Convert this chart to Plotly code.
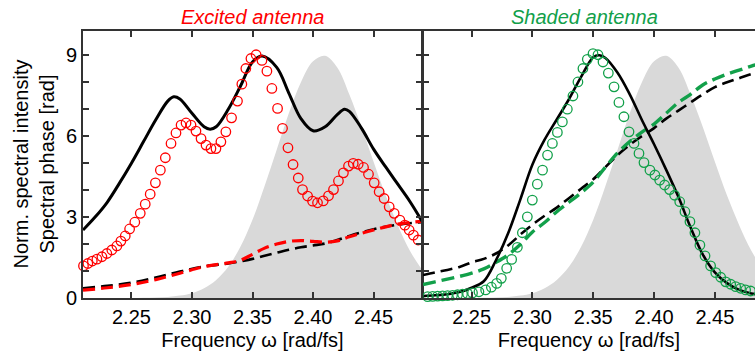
import plotly.graph_objects as go

# ---------------- data ----------------
# laser spectrum (gray area), same in both panels
spec_x = [2.21, 2.22, 2.23, 2.24, 2.25, 2.26, 2.27, 2.28, 2.29, 2.30, 2.31, 2.32, 2.33, 2.34, 2.35,
          2.36, 2.37, 2.38, 2.39, 2.40, 2.41, 2.42, 2.43, 2.44, 2.45, 2.46, 2.47, 2.48, 2.49]
spec_y = [0.0, 0.0, 0.0, 0.0, 0.0, 0.01, 0.02, 0.04, 0.09, 0.18, 0.36, 0.67, 1.16, 1.9, 2.9,
          4.15, 5.5, 6.85, 8.0, 8.78, 8.98, 8.55, 7.55, 6.35, 5.05, 3.8, 2.7, 1.75, 1.05]

# excited antenna: simulated intensity (solid black)
exc_sim_x = [2.21, 2.22, 2.23, 2.24, 2.25, 2.26, 2.27, 2.28, 2.285, 2.29, 2.30, 2.31, 2.315, 2.32, 2.33,
             2.34, 2.35, 2.358, 2.37, 2.38, 2.39, 2.40, 2.41, 2.42, 2.426, 2.43, 2.44, 2.45, 2.46,
             2.47, 2.48, 2.49]
exc_sim_y = [2.52, 3.0, 3.55, 4.25, 5.0, 5.8, 6.6, 7.3, 7.46, 7.38, 6.85, 6.35, 6.26, 6.35, 7.0,
             7.85, 8.75, 8.97, 8.55, 7.6, 6.65, 6.2, 6.35, 6.8, 7.0, 6.92, 6.3, 5.52, 4.86,
             4.22, 3.58, 2.85]

# excited antenna: measured intensity (red circles)
exc_meas_x = [2.2104, 2.2140, 2.2177, 2.2215, 2.2256, 2.2297, 2.2338, 2.2380, 2.2413, 2.2449,
              2.2485, 2.2528, 2.2573, 2.2614, 2.2655, 2.2698, 2.2739, 2.2780, 2.2827, 2.2868,
              2.2910, 2.2951, 2.2992, 2.3033, 2.3075, 2.3116, 2.3157, 2.3198, 2.3239, 2.3280,
              2.3327, 2.3376, 2.3412, 2.3445, 2.3487, 2.3530, 2.3578, 2.3619, 2.3660, 2.3707,
              2.3748, 2.3793, 2.3835, 2.3878, 2.3913, 2.3955, 2.3996, 2.4037, 2.4084, 2.4128,
              2.4169, 2.4210, 2.4251, 2.4293, 2.4332, 2.4373, 2.4417, 2.4458, 2.4505, 2.4546,
              2.4587, 2.4629, 2.4670, 2.4717, 2.4758, 2.4794, 2.4829, 2.4868]
exc_meas_y = [1.19, 1.28, 1.37, 1.44, 1.53, 1.65, 1.78, 1.93, 2.11, 2.30,
              2.56, 2.81, 3.14, 3.48, 3.85, 4.27, 4.74, 5.20, 5.73, 6.12,
              6.41, 6.49, 6.41, 6.19, 5.91, 5.67, 5.54, 5.54, 5.79, 6.16,
              6.68, 7.30, 7.93, 8.51, 8.88, 9.02, 8.81, 8.41, 7.77, 7.03,
              6.29, 5.57, 4.95, 4.45, 4.02, 3.78, 3.59, 3.53, 3.60, 3.79,
              4.02, 4.34, 4.64, 4.89, 4.99, 4.96, 4.84, 4.59, 4.27, 3.94,
              3.69, 3.38, 3.14, 2.89, 2.70, 2.52, 2.33, 2.15]

# excited antenna: spectral phase, simulated (black dashed) and measured (red dashed)
exc_phase_x = [2.21, 2.23, 2.25, 2.27, 2.29, 2.31, 2.33, 2.34, 2.35, 2.36, 2.37, 2.38, 2.39,
               2.40, 2.41, 2.42, 2.43, 2.45, 2.47, 2.49]
exc_phase_sim = [0.36, 0.45, 0.57, 0.76, 0.98, 1.17, 1.28, 1.36, 1.45, 1.57, 1.68, 1.79, 1.88,
                 1.95, 2.02, 2.15, 2.3, 2.55, 2.72, 2.81]
exc_phase_meas = [0.29, 0.38, 0.50, 0.68, 0.92, 1.16, 1.30, 1.40, 1.62, 1.85, 2.0, 2.1, 2.13,
                  2.1, 2.07, 2.12, 2.27, 2.52, 2.74, 2.84]

# shaded antenna: simulated intensity (solid black)
sh_sim_x = [2.21, 2.22, 2.23, 2.24, 2.25, 2.26, 2.27, 2.28, 2.29, 2.30, 2.31, 2.32, 2.33, 2.34,
            2.35, 2.355, 2.36, 2.37, 2.38, 2.39, 2.40, 2.41, 2.42, 2.43, 2.44, 2.45, 2.46,
            2.47, 2.48, 2.49]
sh_sim_y = [0.07, 0.1, 0.14, 0.22, 0.38, 0.62, 1.4, 2.4, 3.65, 4.95, 5.87, 6.62, 7.37, 8.2,
            8.93, 9.0, 8.9, 8.35, 7.55, 6.6, 5.7, 4.75, 3.75, 2.62, 1.62, 0.95, 0.55,
            0.3, 0.17, 0.1]

# shaded antenna: measured intensity (green circles)
sh_meas_x = [2.2138, 2.2179, 2.2220, 2.2261, 2.2302, 2.2343, 2.2384, 2.2425, 2.2466, 2.2507,
             2.2560, 2.2615, 2.2662, 2.2706, 2.2744, 2.2788, 2.2829, 2.2876, 2.2917, 2.2958,
             2.2999, 2.3040, 2.3083, 2.3124, 2.3164, 2.3205, 2.3246, 2.3287, 2.3333, 2.3374,
             2.3415, 2.3451, 2.3498, 2.3539, 2.3580, 2.3624, 2.3671, 2.3711, 2.3752, 2.3794,
             2.3835, 2.3876, 2.3917, 2.3966, 2.4007, 2.4046, 2.4087, 2.4128, 2.4169, 2.4211,
             2.4254, 2.4295, 2.4336, 2.4377, 2.4419, 2.4465, 2.4507, 2.4548, 2.4589, 2.4630,
             2.4671, 2.4712, 2.4753, 2.4794, 2.4835]
sh_meas_y = [0.05, 0.06, 0.07, 0.08, 0.09, 0.10, 0.12, 0.14, 0.16, 0.19,
             0.23, 0.30, 0.40, 0.54, 0.73, 1.10, 1.43, 1.88, 2.42, 3.01,
             3.63, 4.22, 4.74, 5.30, 5.73, 6.14, 6.53, 7.00, 7.49, 8.01,
             8.51, 8.85, 9.06, 9.02, 8.75, 8.34, 7.83, 7.25, 6.72, 6.16,
             5.73, 5.36, 5.02, 4.74, 4.56, 4.37, 4.19, 4.02, 3.81, 3.57,
             3.20, 2.83, 2.42, 1.96, 1.56, 1.19, 0.94, 0.77, 0.60, 0.51,
             0.42, 0.36, 0.30, 0.26, 0.23]

# shaded antenna: spectral phase, simulated (black dashed) and measured (green dashed)
sh_phase_x = [2.21, 2.22, 2.23, 2.24, 2.25, 2.26, 2.27, 2.28, 2.29, 2.30, 2.31, 2.32, 2.33, 2.34,
              2.35, 2.36, 2.37, 2.38, 2.39, 2.40, 2.41, 2.42, 2.43, 2.44, 2.45, 2.46, 2.47,
              2.48, 2.49]
sh_phase_sim = [0.85, 0.95, 1.04, 1.15, 1.32, 1.45, 1.65, 1.95, 2.35, 2.72, 3.05, 3.35, 3.7, 4.05,
                4.4, 4.85, 5.3, 5.68, 6.0, 6.3, 6.65, 6.95, 7.25, 7.55, 7.82, 8.0, 8.15,
                8.3, 8.42]
sh_phase_meas = [0.5, 0.6, 0.7, 0.8, 0.92, 1.08, 1.32, 1.6, 1.98, 2.45, 2.8, 3.2, 3.55, 3.9,
                 4.3, 4.85, 5.38, 5.8, 6.15, 6.45, 6.85, 7.25, 7.55, 7.9, 8.12, 8.3, 8.45,
                 8.6, 8.72]

x_ticks = [2.25, 2.30, 2.35, 2.40, 2.45]
x_tick_text = ["2.25", "2.30", "2.35", "2.40", "2.45"]
y_ticks = [0, 1, 2, 3, 4, 5, 6, 7, 8, 9]
y_tick_text = ["0", "", "", "3", "", "", "6", "", "", "9"]

assert len(exc_meas_x) == len(exc_meas_y)
assert len(sh_meas_x) == len(sh_meas_y)

# ---------------- styling ----------------
FONT = "Arial, Liberation Sans, sans-serif"
RED = "#ff0000"
GREEN = "#12a04a"
GRAY = "#d9d9d9"
AXC = "#333333"

W, H = 755, 358
ML, MR, MT, MB = 83, 0, 31, 60
pw = W - ML - MR
split_l = (422 - ML) / pw
split_r = (423 - ML) / pw

fig = go.Figure()

def panel(xa, ya):
    return dict(xaxis=xa, yaxis=ya)

# --- left panel: excited antenna ---
fig.add_trace(go.Scatter(x=spec_x, y=spec_y, mode="lines", fill="tozeroy", fillcolor=GRAY,
                         line=dict(width=0, color=GRAY, shape="spline"), **panel("x", "y")))
fig.add_trace(go.Scatter(x=exc_phase_x, y=exc_phase_sim, mode="lines",
                         line=dict(color="black", width=2.6, dash="12px,6px", shape="spline"),
                         **panel("x", "y")))
fig.add_trace(go.Scatter(x=exc_phase_x, y=exc_phase_meas, mode="lines",
                         line=dict(color=RED, width=3.2, dash="12px,6px", shape="spline"),
                         **panel("x", "y")))
fig.add_trace(go.Scatter(x=exc_sim_x, y=exc_sim_y, mode="lines",
                         line=dict(color="black", width=3, shape="spline"), **panel("x", "y")))
fig.add_trace(go.Scatter(x=exc_meas_x, y=exc_meas_y, mode="markers", cliponaxis=False,
                         marker=dict(symbol="circle-open", size=9.5, color=RED,
                                     line=dict(width=1.3, color=RED)),
                         **panel("x", "y")))

# --- right panel: shaded antenna ---
fig.add_trace(go.Scatter(x=spec_x, y=spec_y, mode="lines", fill="tozeroy", fillcolor=GRAY,
                         line=dict(width=0, color=GRAY, shape="spline"), **panel("x2", "y2")))
fig.add_trace(go.Scatter(x=sh_phase_x, y=sh_phase_sim, mode="lines",
                         line=dict(color="black", width=2.6, dash="12px,6px", shape="spline"),
                         **panel("x2", "y2")))
fig.add_trace(go.Scatter(x=sh_phase_x, y=sh_phase_meas, mode="lines",
                         line=dict(color=GREEN, width=3.4, dash="13px,6px", shape="spline"),
                         **panel("x2", "y2")))
fig.add_trace(go.Scatter(x=sh_sim_x, y=sh_sim_y, mode="lines",
                         line=dict(color="black", width=2.6, shape="spline"), **panel("x2", "y2")))
fig.add_trace(go.Scatter(x=sh_meas_x, y=sh_meas_y, mode="markers", cliponaxis=False,
                         marker=dict(symbol="circle-open", size=9.5, color=GREEN,
                                     line=dict(width=1.3, color=GREEN)),
                         **panel("x2", "y2")))

tickfont = dict(family=FONT, size=20, color="black")
xcommon = dict(tickvals=x_ticks, ticktext=x_tick_text, ticks="inside", ticklen=6, tickwidth=1.6,
               tickcolor=AXC, showline=True, linecolor=AXC, linewidth=2, mirror="allticks",
               showgrid=False, zeroline=False, tickfont=tickfont,
               title=dict(text="Frequency \u03c9 [rad/fs]", font=dict(family=FONT, size=20, color="black"),
                          standoff=6))
ycommon = dict(range=[0, 9.9], tickvals=y_ticks, ticktext=y_tick_text, ticks="inside", ticklen=6,
               tickwidth=1.6, tickcolor=AXC, showline=True, linecolor=AXC, linewidth=2,
               showgrid=False, zeroline=False, tickfont=tickfont)

fig.update_layout(
    width=W, height=H,
    margin=dict(l=ML, r=MR, t=MT, b=MB),
    paper_bgcolor="white", plot_bgcolor="white",
    showlegend=False,
    font=dict(family=FONT, color="black"),
    xaxis=dict(domain=[0, split_l], range=[2.21, 2.49], anchor="y", **xcommon),
    yaxis=dict(domain=[0, 1], anchor="x", mirror="allticks", **ycommon),
    xaxis2=dict(domain=[split_r, 1], range=[2.21, 2.483], anchor="y2", **xcommon),
    yaxis2=dict(domain=[0, 1], anchor="x2", mirror=False, showticklabels=False, **ycommon),
    annotations=[
        dict(text="<i>Excited antenna</i>", xref="paper", yref="paper", x=split_l / 2, y=1,
             yshift=14, xanchor="center", yanchor="middle", showarrow=False,
             font=dict(family=FONT, size=20, color=RED)),
        dict(text="<i>Shaded antenna</i>", xref="paper", yref="paper", x=(split_r + 1) / 2 - 0.007,
             y=1, yshift=14, xanchor="center", yanchor="middle", showarrow=False,
             font=dict(family=FONT, size=20, color=GREEN)),
        dict(text="Norm. spectral intensity<br>Spectral phase [rad]", xref="paper", yref="paper",
             x=0, y=0.5, xshift=-50, xanchor="center", yanchor="middle", textangle=-90,
             showarrow=False, font=dict(family=FONT, size=20, color="black")),
    ],
)

fig.write_html("out.html")
